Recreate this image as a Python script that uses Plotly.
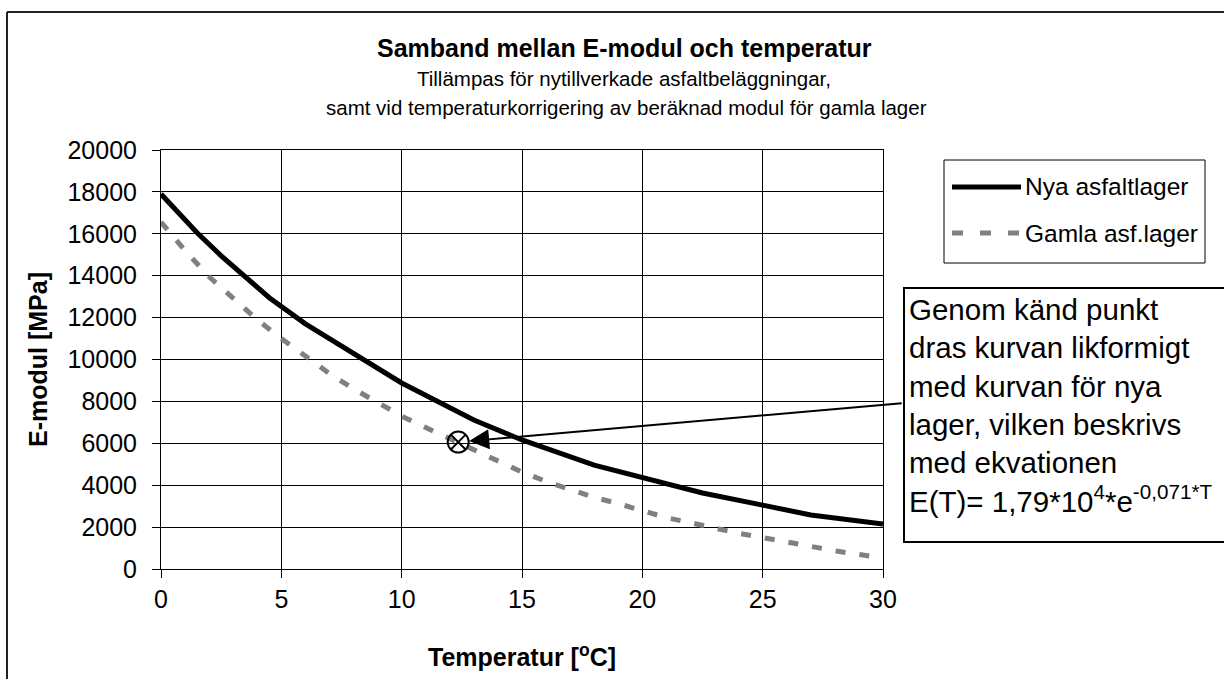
import plotly.graph_objects as go

# ---------------- data ----------------
nya_name = "Nya asfaltlager"
nya_T = [0, 1.5, 2.5, 3.5, 4.5, 6, 8, 10, 13, 15, 18, 20, 22.5, 25, 27, 30]
nya_E = [17900, 16050, 14950, 13950, 12950, 11700, 10300, 8880, 7110, 6160,
         4960, 4390, 3630, 3050, 2580, 2150]

gamla_name = "Gamla asf.lager"
gamla_T = list(range(0, 31))
gamla_E = [16560, 15200, 13950, 12950, 11900, 11000, 10150, 9330, 8600, 7920,
           7300, 6750, 6210, 5660, 5110, 4630, 4180, 3800, 3420, 3120,
           2780, 2450, 2210, 1940, 1700, 1500, 1270, 1070, 870, 690, 525]

known_T = [12.35]
known_E = [6060]

x_ticks = [0, 5, 10, 15, 20, 25, 30]
y_ticks = [0, 2000, 4000, 6000, 8000, 10000, 12000, 14000, 16000, 18000, 20000]

title = "<b>Samband mellan E-modul och temperatur</b>"
sub1 = "Tillämpas för nytillverkade asfaltbeläggningar,"
sub2 = "samt vid temperaturkorrigering av beräknad modul för gamla lager"
x_title = "<b>Temperatur [<sup>o</sup>C]</b>"
y_title = "<b>E-modul [MPa]</b>"
note_text = ("Genom känd punkt<br>dras kurvan likformigt<br>med kurvan för nya<br>"
             "lager, vilken beskrivs<br>med ekvationen<br>"
             "E(T)= 1,79*10<sup>4</sup>*e<sup>-0,071*T</sup>")

# ---------------- layout geometry ----------------
W, H = 1224, 679
L, R, T, B = 161, 883, 150, 569
FONT = "Arial, 'Liberation Sans', sans-serif"


def px(x):
    return (x - L) / (R - L)


def py(y):
    return (B - y) / (B - T)


fig = go.Figure()
fig.add_trace(go.Scatter(x=nya_T, y=nya_E, mode="lines", name=nya_name,
                         line=dict(color="black", width=5), showlegend=False))
fig.add_trace(go.Scatter(x=gamla_T, y=gamla_E, mode="lines", name=gamla_name,
                         line=dict(color="#808080", width=5, dash="10px,14px"),
                         showlegend=False))
fig.add_trace(go.Scatter(x=known_T, y=known_E, mode="markers", name="Känd punkt",
                         marker=dict(symbol="circle-x-open", size=21,
                                     color="black", line=dict(width=2)),
                         showlegend=False))

shapes = []
# outer chart border (left and top visible)
shapes.append(dict(type="line", xref="paper", yref="paper",
                   x0=px(7), x1=px(7), y0=py(12), y1=py(H + 30),
                   line=dict(color="#222", width=2)))
shapes.append(dict(type="line", xref="paper", yref="paper",
                   x0=px(7), x1=px(W + 30), y0=py(12), y1=py(12),
                   line=dict(color="#222", width=2)))
# legend box
shapes.append(dict(type="rect", xref="paper", yref="paper",
                   x0=px(944), x1=px(1205), y0=py(160), y1=py(263),
                   line=dict(color="black", width=1), fillcolor="white"))
shapes.append(dict(type="line", xref="paper", yref="paper",
                   x0=px(952), x1=px(1021), y0=py(187), y1=py(187),
                   line=dict(color="black", width=5)))
shapes.append(dict(type="line", xref="paper", yref="paper",
                   x0=px(952), x1=px(1021), y0=py(233), y1=py(233),
                   line=dict(color="#808080", width=5, dash="11px,17px")))

annotations = [
    dict(text=title, x=px(624), y=py(48), xref="paper", yref="paper",
         showarrow=False, font=dict(family=FONT, size=25, color="black"),
         xanchor="center", yanchor="middle"),
    dict(text=sub1, x=px(624), y=py(78), xref="paper", yref="paper",
         showarrow=False, font=dict(family=FONT, size=20.5, color="black"),
         xanchor="center", yanchor="middle"),
    dict(text=sub2, x=px(626), y=py(107), xref="paper", yref="paper",
         showarrow=False, font=dict(family=FONT, size=20.5, color="black"),
         xanchor="center", yanchor="middle"),
    dict(text=nya_name, x=px(1023), y=py(187), xref="paper", yref="paper",
         showarrow=False, font=dict(family=FONT, size=24.5, color="black"),
         xanchor="left", yanchor="middle"),
    dict(text=gamla_name, x=px(1023), y=py(233), xref="paper", yref="paper",
         showarrow=False, font=dict(family=FONT, size=24.5, color="black"),
         xanchor="left", yanchor="middle"),
    # explanation box
    dict(text=note_text, x=px(903), y=py(287), xref="paper", yref="paper",
         showarrow=False, font=dict(family=FONT, size=29.5, color="black"),
         xanchor="left", yanchor="top", align="left", valign="top",
         width=360, height=244, borderpad=4, borderwidth=2,
         bordercolor="black", bgcolor="white"),
    # arrow from the box to the known point
    dict(x=known_T[0], y=known_E[0], xref="x", yref="y", text="",
         showarrow=True, ax=445, ay=-39, axref="pixel", ayref="pixel",
         arrowhead=2, arrowsize=2, arrowwidth=2, arrowcolor="black",
         standoff=11),
]

fig.update_layout(
    width=W, height=H,
    margin=dict(l=L, r=W - R, t=T, b=H - B, pad=0),
    paper_bgcolor="white", plot_bgcolor="white",
    font=dict(family=FONT, size=25, color="black"),
    shapes=shapes, annotations=annotations,
    showlegend=False,
)
fig.update_xaxes(range=[0, 30], tickvals=x_ticks, ticktext=[str(v) for v in x_ticks],
                 showgrid=True, gridcolor="black", gridwidth=1,
                 showline=True, linecolor="black", linewidth=1, mirror=True,
                 ticks="outside", ticklen=8, tickcolor="black",
                 tickfont=dict(family=FONT, size=25), zeroline=False,
                 title=dict(text=x_title, font=dict(family=FONT, size=25),
                            standoff=36))
fig.update_yaxes(range=[0, 20000], tickvals=y_ticks, ticktext=[str(v) for v in y_ticks],
                 showgrid=True, gridcolor="black", gridwidth=1,
                 showline=True, linecolor="black", linewidth=1, mirror=True,
                 ticks="outside", ticklen=8, tickcolor="black",
                 tickfont=dict(family=FONT, size=25), zeroline=False,
                 ticklabelstandoff=10,
                 title=dict(text=y_title, font=dict(family=FONT, size=25),
                            standoff=12))

fig.write_html("out.html", config={"displayModeBar": False},
               post_script="document.body.style.margin='0';"
                           "document.body.style.overflow='hidden';")
